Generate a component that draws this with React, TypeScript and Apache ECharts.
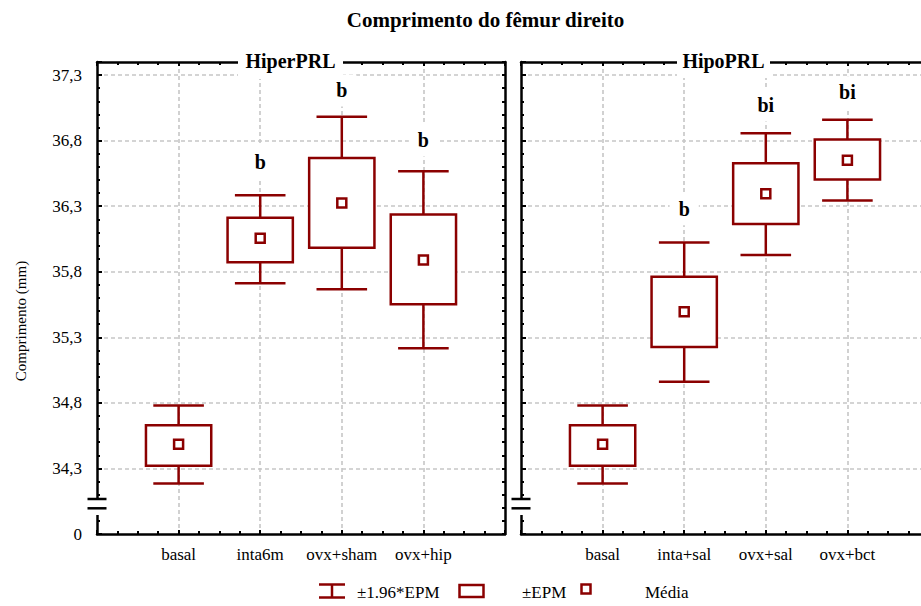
import React, { useEffect, useRef } from 'react';
import * as echarts from 'echarts';

// ---------- data ----------
const Y_MIN = 33.8;
const Y_MAX = 37.4;
const ZERO_LABEL = '0';

const hiperCategories = ['basal', 'inta6m', 'ovx+sham', 'ovx+hip'];
const hiperMean = [34.485, 36.055, 36.324, 35.89];
const hiperBoxLow = [34.32, 35.872, 35.984, 35.552];
const hiperBoxHigh = [34.63, 36.213, 36.667, 36.236];
const hiperWhiskerLow = [34.186, 35.712, 35.667, 35.216];
const hiperWhiskerHigh = [34.78, 36.383, 36.983, 36.566];
const hiperLetters = ['', 'b', 'b', 'b'];
const hiperLetterY = [NaN, 36.637, 37.183, 36.802];

const hipoCategories = ['basal', 'inta+sal', 'ovx+sal', 'ovx+bct'];
const hipoMean = [34.485, 35.496, 36.396, 36.65];
const hipoBoxLow = [34.32, 35.226, 36.164, 36.503];
const hipoBoxHigh = [34.63, 35.762, 36.627, 36.808];
const hipoWhiskerLow = [34.186, 34.962, 35.928, 36.343];
const hipoWhiskerHigh = [34.78, 36.024, 36.856, 36.96];
const hipoLetters = ['', 'b', 'bi', 'bi'];
const hipoLetterY = [NaN, 36.276, 37.069, 37.17];

const legendLabels = ['±1.96*EPM', '±EPM', 'Média'];

// ---------- styles ----------
const SERIF = '"Liberation Serif", "Times New Roman", Times, serif';
const RED = '#8b0000';
const GRID_LINE = { color: '#c6c6c6', width: 1.6, type: [4, 3] as any };
const AXIS_LINE = { color: '#000', width: 2.5 };
const TICK_STYLE = { color: '#000', width: 2 };

function buildData(
  wl: number[], bl: number[], m: number[], bh: number[], wh: number[], ly: number[]
) {
  return m.map((_, i) => [i + 1, wl[i], bl[i], m[i], bh[i], wh[i], ly[i]]);
}

function makeRender(letters: string[]) {
  return (params: any, api: any) => {
    const i = params.dataIndex;
    const x = api.value(0);
    const p = (v: number) => api.coord([x, v]);
    const [cx, yWL] = p(api.value(1));
    const yBL = p(api.value(2))[1];
    const yM = p(api.value(3))[1];
    const yBH = p(api.value(4))[1];
    const yWH = p(api.value(5))[1];
    const unit = api.size([1, 0])[0];
    const bw = unit * 0.4;
    const cw = unit * 0.31;
    const st = { stroke: RED, lineWidth: 2.5, fill: 'none' };
    const children: any[] = [
      { type: 'line', shape: { x1: cx, y1: yWH, x2: cx, y2: yBH }, style: st },
      { type: 'line', shape: { x1: cx, y1: yBL, x2: cx, y2: yWL }, style: st },
      { type: 'line', shape: { x1: cx - cw, y1: yWH, x2: cx + cw, y2: yWH }, style: st },
      { type: 'line', shape: { x1: cx - cw, y1: yWL, x2: cx + cw, y2: yWL }, style: st },
      {
        type: 'rect',
        shape: { x: cx - bw, y: yBH, width: 2 * bw, height: yBL - yBH },
        style: { ...st, fill: '#fff' },
      },
      {
        type: 'rect',
        shape: { x: cx - 4.5, y: yM - 4.5, width: 9, height: 9 },
        style: { ...st, fill: '#fff' },
      },
    ];
    if (letters[i]) {
      const ly = p(api.value(6))[1];
      children.push({
        type: 'text',
        style: {
          text: letters[i],
          x: cx,
          y: ly,
          align: 'center',
          verticalAlign: 'middle',
          font: `bold 20px ${SERIF}`,
          fill: '#000',
          backgroundColor: '#fff',
          padding: [6, 9],
        },
      });
    }
    return { type: 'group', children };
  };
}

function xAxesFor(gridIndex: number, cats: string[]) {
  return [
    {
      type: 'value', gridIndex, position: 'bottom', min: 0, max: 5, interval: 1,
      axisLine: { show: true, onZero: false, lineStyle: AXIS_LINE },
      axisTick: { show: true, inside: true, length: 4, lineStyle: TICK_STYLE },
      minorTick: { show: true, splitNumber: 4, length: 3, lineStyle: TICK_STYLE },
      axisLabel: {
        show: true, margin: 12, color: '#000', fontSize: 17, fontFamily: SERIF,
        formatter: (v: number) => cats[Math.round(v) - 1] ?? '',
      },
      splitLine: { show: true, showMinLine: false, showMaxLine: false, lineStyle: GRID_LINE },
    },
    {
      type: 'value', gridIndex, position: 'top', min: 0, max: 5, interval: 1,
      axisLine: { show: true, onZero: false, lineStyle: AXIS_LINE },
      axisTick: { show: true, inside: true, length: 4, lineStyle: TICK_STYLE },
      minorTick: { show: true, splitNumber: 4, length: 3, lineStyle: TICK_STYLE },
      axisLabel: { show: false },
      splitLine: { show: false },
    },
  ];
}

const yFmt = (v: number) => {
  if (Math.abs(v - Y_MIN) < 1e-6) return ZERO_LABEL;
  if (Math.abs(v - Y_MAX) < 1e-6) return '';
  return v.toFixed(1).replace('.', ',');
};

function yAxesFor(gridIndex: number, showLabels: boolean) {
  return [
    {
      type: 'value', gridIndex, position: 'left', min: Y_MIN, max: Y_MAX, interval: 0.5,
      axisLine: { show: true, onZero: false, lineStyle: AXIS_LINE },
      axisTick: { show: true, inside: true, length: 5, lineStyle: TICK_STYLE },
      axisLabel: {
        show: showLabels, margin: 15, color: '#000', fontSize: 17, fontFamily: SERIF,
        formatter: yFmt,
      },
      splitLine: { show: true, showMinLine: false, showMaxLine: false, lineStyle: GRID_LINE },
    },
    {
      type: 'value', gridIndex, position: 'left', min: Y_MIN, max: Y_MAX, interval: 0.1,
      axisLine: { show: false },
      axisTick: { show: true, inside: true, length: 3, lineStyle: TICK_STYLE },
      axisLabel: { show: false },
      splitLine: { show: false },
    },
    {
      type: 'value', gridIndex, position: 'right', min: Y_MIN, max: Y_MAX, interval: 0.1,
      axisLine: { show: true, onZero: false, lineStyle: AXIS_LINE },
      axisTick: { show: true, inside: true, length: 3, lineStyle: TICK_STYLE },
      axisLabel: { show: false },
      splitLine: { show: false },
    },
  ];
}

function breakMarks(ax: number) {
  return [
    { type: 'rect', z: 100, shape: { x: ax - 3, y: 500, width: 6, height: 15 }, style: { fill: '#fff' } },
    { type: 'line', z: 101, shape: { x1: ax - 9.5, y1: 499, x2: ax + 9.5, y2: 499 }, style: { stroke: '#000', lineWidth: 2.5 } },
    { type: 'line', z: 101, shape: { x1: ax - 9.5, y1: 508.3, x2: ax + 9.5, y2: 508.3 }, style: { stroke: '#000', lineWidth: 2.5 } },
  ];
}

function txt(text: string, x: number, y: number, font: string, align = 'center', extra: any = {}) {
  return {
    type: 'text', z: 102, x, y, ...extra,
    style: {
      text, font, fill: '#000',
      textAlign: align, textVerticalAlign: 'middle', align, verticalAlign: 'middle',
    },
  };
}

function buildOption() {
  const legendY = 592;
  const lst = { stroke: RED, lineWidth: 2.5, fill: 'none' };
  return {
    animation: false,
    backgroundColor: '#fff',
    textStyle: { fontFamily: SERIF },
    grid: [
      { left: 97, top: 62, width: 408, height: 472, containLabel: false },
      { left: 521, top: 62, width: 408, height: 472, containLabel: false },
    ],
    xAxis: [...xAxesFor(0, hiperCategories), ...xAxesFor(1, hipoCategories)],
    yAxis: [...yAxesFor(0, true), ...yAxesFor(1, false)],
    series: [
      {
        type: 'custom', name: 'HiperPRL', xAxisIndex: 0, yAxisIndex: 0, z: 5,
        renderItem: makeRender(hiperLetters),
        data: buildData(hiperWhiskerLow, hiperBoxLow, hiperMean, hiperBoxHigh, hiperWhiskerHigh, hiperLetterY),
      },
      {
        type: 'custom', name: 'HipoPRL', xAxisIndex: 2, yAxisIndex: 3, z: 5,
        renderItem: makeRender(hipoLetters),
        data: buildData(hipoWhiskerLow, hipoBoxLow, hipoMean, hipoBoxHigh, hipoWhiskerHigh, hipoLetterY),
      },
    ],
    graphic: [
      txt('Comprimento do fêmur direito', 485.5, 19.5, `bold 21px ${SERIF}`),
      { type: 'rect', z: 100, shape: { x: 238, y: 45, width: 105, height: 34 }, style: { fill: '#fff' } },
      txt('HiperPRL', 290.5, 60.5, `bold 20px ${SERIF}`),
      { type: 'rect', z: 100, shape: { x: 677, y: 45, width: 93, height: 33 }, style: { fill: '#fff' } },
      txt('HipoPRL', 723.5, 60.5, `bold 20px ${SERIF}`),
      txt('Comprimento (mm)', 21, 321, `15px ${SERIF}`, 'center', { rotation: Math.PI / 2 }),
      ...breakMarks(97),
      ...breakMarks(521),
      // legend
      { type: 'line', z: 102, shape: { x1: 319, y1: 584.5, x2: 345, y2: 584.5 }, style: lst },
      { type: 'line', z: 102, shape: { x1: 332, y1: 584.5, x2: 332, y2: 597.5 }, style: lst },
      { type: 'line', z: 102, shape: { x1: 319, y1: 597.5, x2: 345, y2: 597.5 }, style: lst },
      txt(legendLabels[0], 357, legendY, `17px ${SERIF}`, 'left'),
      { type: 'rect', z: 102, shape: { x: 459.5, y: 585, width: 24, height: 12 }, style: lst },
      txt(legendLabels[1], 522, legendY, `17px ${SERIF}`, 'left'),
      { type: 'rect', z: 102, shape: { x: 581.5, y: 584.5, width: 9, height: 9 }, style: lst },
      txt(legendLabels[2], 645, legendY, `17px ${SERIF}`, 'left'),
    ],
  };
}

export default function App() {
  const ref = useRef<HTMLDivElement>(null);
  useEffect(() => {
    if (!ref.current) return;
    const chart = echarts.init(ref.current, null, { renderer: 'svg' });
    chart.setOption(buildOption() as any);
    return () => chart.dispose();
  }, []);
  return (
    <div
      style={{
        position: 'fixed', left: 0, top: 0, width: 921, height: 606,
        overflow: 'hidden', background: '#fff',
      }}
    >
      <div ref={ref} style={{ width: 940, height: 606 }} />
    </div>
  );
}
